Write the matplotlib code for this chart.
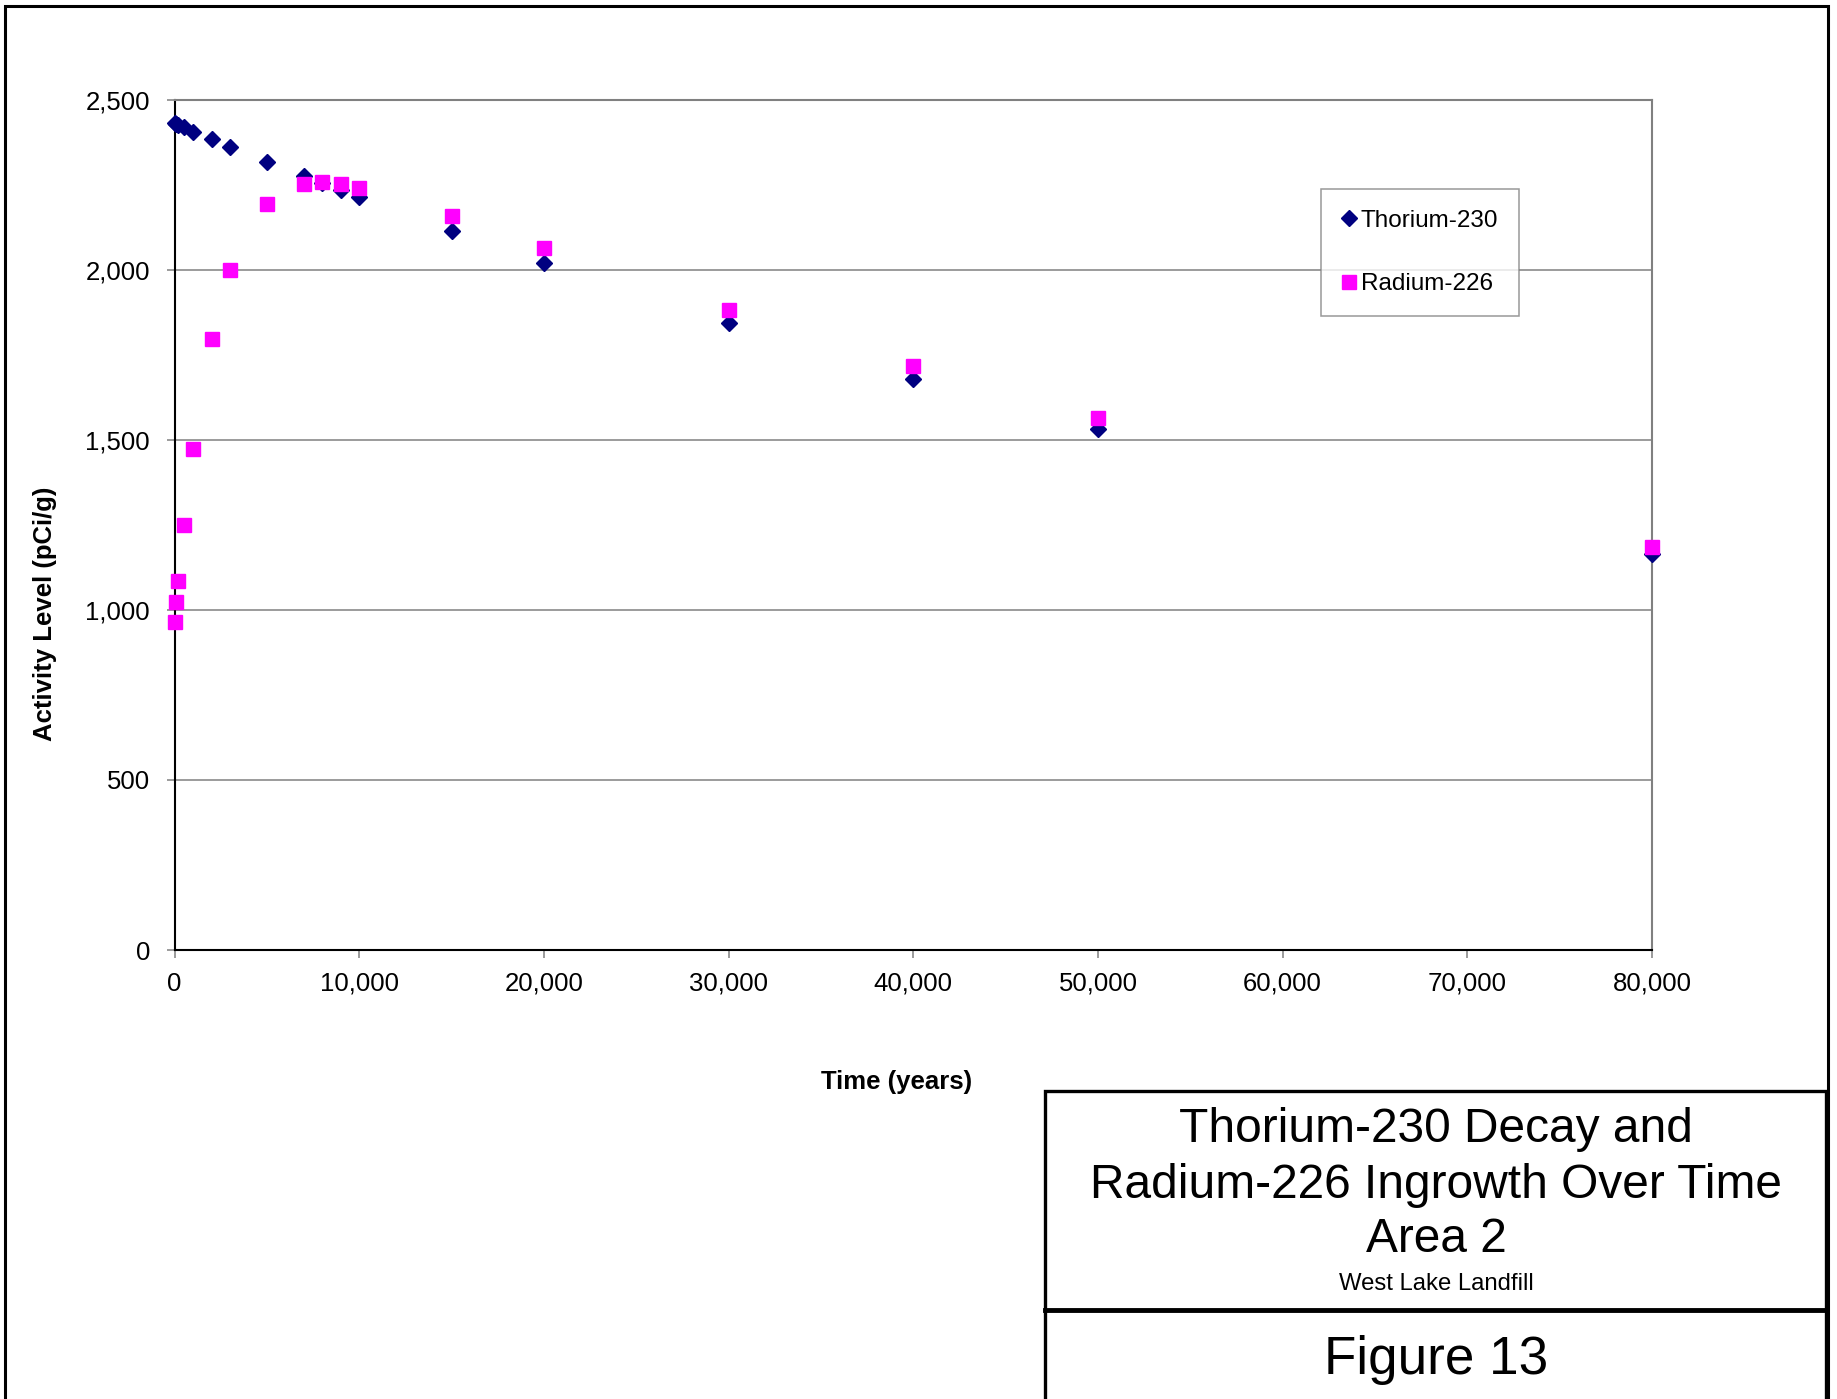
import matplotlib
matplotlib.use("Agg")
import matplotlib.pyplot as plt
from matplotlib.patches import Rectangle
from matplotlib.lines import Line2D
from matplotlib import font_manager
from matplotlib.ticker import FuncFormatter

# ---- data ----
years = [0, 100, 200, 500, 1000, 2000, 3000, 5000, 7000, 8000, 9000, 10000,
         15000, 20000, 30000, 40000, 50000, 80000]
thorium_230 = [2430, 2428, 2425, 2418, 2405, 2383, 2361, 2318, 2275, 2254, 2233, 2213,
               2115, 2020, 1842, 1680, 1532, 1163]
radium_226 = [965, 1024, 1085, 1250, 1473, 1797, 2000, 2193, 2252, 2257, 2251, 2240,
              2159, 2063, 1882, 1717, 1563, 1185]
x_ticks = [0, 10000, 20000, 30000, 40000, 50000, 60000, 70000, 80000]
y_ticks = [0, 500, 1000, 1500, 2000, 2500]

W, H = 1837, 1399
plt.rcParams['font.family'] = ['Liberation Sans', 'DejaVu Sans']

names = {f.name for f in font_manager.fontManager.ttflist}
if 'Liberation Sans Narrow' in names:
    narrow = 'Liberation Sans Narrow'
    scale = 1.0
else:
    narrow = 'Liberation Sans'
    scale = 0.82

fig = plt.figure(figsize=(W / 100, H / 100), dpi=100)

def fx(px):
    return px / W

def fy(py):
    return 1 - py / H

ax_l, ax_r, ax_t, ax_b = 174.6, 1652, 99.6, 950
ax = fig.add_axes([fx(ax_l), fy(ax_b), (ax_r - ax_l) / W, (ax_b - ax_t) / H])

ax.plot(years, thorium_230, linestyle='none', marker='D', markersize=8,
        color='#000080', markeredgecolor='#000080', clip_on=False, zorder=3,
        label='Thorium-230')
ax.plot(years, radium_226, linestyle='none', marker='s', markersize=10.5,
        color='#FF00FF', markeredgecolor='#FF00FF', clip_on=False, zorder=4,
        label='Radium-226')

ax.set_xlim(0, 80000)
ax.set_ylim(0, 2500)
ax.set_xticks(x_ticks)
ax.set_yticks(y_ticks)
fmt = FuncFormatter(lambda v, p: f"{int(v):,}")
ax.xaxis.set_major_formatter(fmt)
ax.yaxis.set_major_formatter(fmt)
ax.yaxis.grid(True, color='#808080', linewidth=1.1)
ax.set_axisbelow(True)
ax.tick_params(axis='both', direction='out', length=5.8, width=1.1, color='#808080',
               labelsize=18.5, labelcolor='black')
ax.tick_params(axis='y', pad=12)
ax.tick_params(axis='x', pad=10)
for s in ['top', 'right']:
    ax.spines[s].set_color('#808080')
    ax.spines[s].set_linewidth(1.5)
for s in ['left', 'bottom']:
    ax.spines[s].set_color('black')
    ax.spines[s].set_linewidth(1.5)

leg = ax.legend(loc='upper left', bbox_to_anchor=(fx(1320.7), fy(189)),
                bbox_transform=fig.transFigure, borderaxespad=0, fancybox=False,
                frameon=True, edgecolor='#808080', fontsize=17.5, borderpad=0.85,
                labelspacing=1.72, handlelength=0.6, handletextpad=0.2,
                markerscale=1.0)
leg.get_frame().set_linewidth(1.1)

fig.text(fx(897), fy(1082), 'Time (years)', fontsize=18.5, fontweight='bold',
         ha='center', va='center')
fig.text(fx(45), fy(614), 'Activity Level (pCi/g)', fontsize=18.5, fontweight='bold',
         ha='center', va='center', rotation=90)

# outer border
fig.add_artist(Rectangle((fx(5), fy(1420)), fx(1828) - fx(5), fy(6) - fy(1420),
                         transform=fig.transFigure, fill=False, edgecolor='black',
                         linewidth=2.2, clip_on=False))
# title box
fig.add_artist(Rectangle((fx(1045), fy(1420)), fx(1826) - fx(1045), fy(1091) - fy(1420),
                         transform=fig.transFigure, fill=False, edgecolor='black',
                         linewidth=2.4, clip_on=False))
fig.add_artist(Line2D([fx(1045), fx(1826)], [fy(1310), fy(1310)],
                      transform=fig.transFigure, color='black', linewidth=3.5))

cx = fx(1436)
fig.text(cx, fy(1129.5), 'Thorium-230 Decay and', fontsize=42 * scale, family=narrow,
         ha='center', va='center')
fig.text(cx, fy(1185.5), 'Radium-226 Ingrowth Over Time', fontsize=42 * scale, family=narrow,
         ha='center', va='center')
fig.text(cx, fy(1239.5), 'Area 2', fontsize=42 * scale, family=narrow,
         ha='center', va='center')
fig.text(cx, fy(1284.5), 'West Lake Landfill', fontsize=21 * scale, family=narrow,
         ha='center', va='center')
fig.text(cx, fy(1360), 'Figure 13', fontsize=46.5 * scale, family=narrow,
         ha='center', va='center')

fig.savefig('out.png', dpi=100, facecolor='white')
